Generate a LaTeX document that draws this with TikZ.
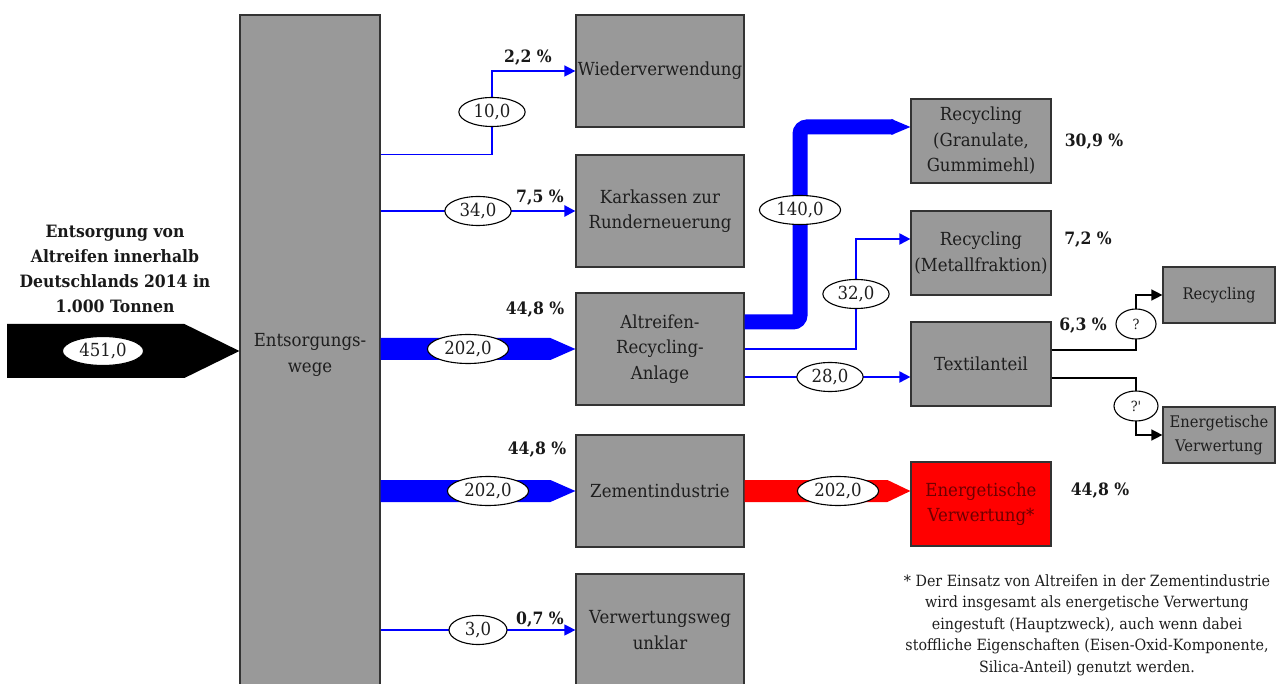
\documentclass[tikz,border=0pt]{standalone}
\usepackage{fontspec}
\setmainfont{DejaVu Serif}[FakeStretch=0.92]
\newfontfamily\plainserif{DejaVu Serif}[FakeStretch=0.92, Ligatures=TeXOff]
\usetikzlibrary{shapes.geometric,arrows.meta,calc}

\definecolor{boxgray}{RGB}{153,153,153}
\definecolor{flowblue}{RGB}{0,0,255}
\definecolor{flowred}{RGB}{255,0,0}
\definecolor{textred}{RGB}{110,0,0}
\definecolor{inktext}{RGB}{30,30,30}

\tikzset{
  box/.style={draw=black!80, line width=1.2pt, fill=boxgray, align=center,
    inner sep=1pt, text=inktext, font=\fontsize{18}{25.5}\selectfont},
  midbox/.style={box, minimum width=168pt, minimum height=112pt},
  rightbox/.style={box, minimum width=140pt, minimum height=84pt},
  smallbox/.style={box, minimum width=112pt, minimum height=56pt, font=\fontsize{16}{24}\selectfont},
  val/.style={ellipse, draw=black, line width=1.1pt, fill=white, inner xsep=5pt,
    inner ysep=1pt, minimum height=29pt, text=inktext, font=\fontsize{18}{20}\selectfont},
  qval/.style={val, minimum width=40pt, minimum height=30pt, inner xsep=2pt, font=\plainserif\fontsize{14}{16}\selectfont},
  pct/.style={font=\bfseries\fontsize{17}{20}\selectfont, text=black!90},
  blueflow/.style={draw=flowblue, -{Triangle[length=11pt,width=11pt]}},
  blackflow/.style={draw=black, line width=1.4pt, -{Triangle[length=11pt,width=11pt]}},
}

\begin{document}
\begin{tikzpicture}[x=1pt, y=-1pt]
\clip (0,0) rectangle (1277,684);
\fill[white] (0,0) rectangle (1277,684);

% ---- boxes ----
\node[box, minimum width=140pt, minimum height=680pt] (ew) at (310,355) {Entsorgungs-\\wege};

\node[midbox] (wv)  at (660,71)  {Wiederverwendung};
\node[midbox] (kk)  at (660,211) {Karkassen zur\\Runderneuerung};
\node[midbox] (ara) at (660,349) {Altreifen-\\Recycling-\\Anlage};
\node[midbox] (zi)  at (660,491) {Zementindustrie};
\node[midbox] (vu)  at (660,630) {Verwertungsweg\\unklar};

\node[rightbox] (rg) at (981,141) {Recycling\\(Granulate,\\Gummimehl)};
\node[rightbox] (rm) at (981,253) {Recycling\\(Metallfraktion)};
\node[rightbox] (ta) at (981,364) {Textilanteil};
\node[rightbox, fill=flowred, text=textred] (ev) at (981,504) {Energetische\\Verwertung*};

\node[smallbox] (r4) at (1219,295) {Recycling};
\node[smallbox] (e4) at (1219,435) {Energetische\\Verwertung};

% ---- input arrow and title ----
\node[align=center, font=\bfseries\fontsize{17}{25}\selectfont, text=black!90] (title) at (115,269)
  {Entsorgung von\\Altreifen innerhalb\\Deutschlands 2014 in\\1.000 Tonnen};
\coordinate (src) at (7,351);
\fill[black] ($(src)+(0,-27)$) -- ($(ew.west|-src)+(-55,-27)$) -- (ew.west|-src)
  -- ($(ew.west|-src)+(-55,27)$) -- ($(src)+(0,27)$) -- cycle;

% ---- junction points of the connectors ----
\coordinate (c10)  at (492,112);
\coordinate (c34)  at (478,211);
\coordinate (c202a) at (468,349);
\coordinate (c202b) at (488,491);
\coordinate (c3)   at (478,630);
\coordinate (c140) at (800,210);
\coordinate (c32)  at (856,294);
\coordinate (c28)  at (830,377);
\coordinate (c202c) at (838,491);
\coordinate (cq1)  at (1136,324);
\coordinate (cq2)  at (1136,406);

% ---- flows out of Entsorgungswege ----
\draw[blueflow, line width=1.4pt] (ew.east|-kk.north) -| (c10) |- (wv.west);
\draw[blueflow, line width=2.4pt] (ew.east|-kk.west) -- (kk.west);
\fill[flowblue] ($(ew.east|-ara.west)+(0,-11)$) -- ($(ara.west)+(-25,-11)$) -- (ara.west)
  -- ($(ara.west)+(-25,11)$) -- ($(ew.east|-ara.west)+(0,11)$) -- cycle;
\fill[flowblue] ($(ew.east|-zi.west)+(0,-11)$) -- ($(zi.west)+(-25,-11)$) -- (zi.west)
  -- ($(zi.west)+(-25,11)$) -- ($(ew.east|-zi.west)+(0,11)$) -- cycle;
\draw[blueflow, line width=1.2pt] (ew.east|-vu.west) -- (vu.west);

% ---- flows out of the recycling plant ----
\draw[flowblue, line width=15pt, rounded corners=7pt]
  ($(ara.east)+(0,-27)$) -| (c140) |- ($(rg.west)+(-17,-14)$);
\fill[flowblue] ($(rg.west)+(-19,-22)$) -- ($(rg.west)+(0,-14)$) -- ($(rg.west)+(-19,-6)$) -- cycle;
\draw[blueflow, line width=2pt] (ara.east) -| (c32) |- ($(rm.west)+(0,-14)$);
\draw[blueflow, line width=2pt] ($(ara.east)+(0,28)$) -- (ta.west|-c28);

% ---- cement industry ----
\fill[flowred] ($(zi.east)+(0,-11)$) -- ($(ev.west|-zi.east)+(-23,-11)$) -- (ev.west|-zi.east)
  -- ($(ev.west|-zi.east)+(-23,11)$) -- ($(zi.east)+(0,11)$) -- cycle;

% ---- textile fraction ----
\draw[blackflow] ($(ta.east)+(0,-14)$) -| (cq1) |- (r4.west);
\draw[blackflow] ($(ta.east)+(0,14)$) -| (cq2) |- (e4.west);

% ---- quantities ----
\node[val] (v451) at (103,351) {451,0};
\node[val] (v10) at (c10) {10,0};
\node[val] (v34) at (c34) {34,0};
\node[val] (v202a) at (c202a) {202,0};
\node[val] (v202b) at (c202b) {202,0};
\node[val, minimum width=58pt] (v3) at (c3) {3,0};
\node[val] (v140) at (c140) {140,0};
\node[val] (v32) at (c32) {32,0};
\node[val] (v28) at (c28) {28,0};
\node[val] (v202c) at (c202c) {202,0};
\node[qval] (q1) at (cq1) {?};
\node[qval, minimum width=44pt] (q2) at (cq2) {?'};

% ---- shares ----
\node[pct] (p22)  at (528,58)  {2,2 \%};
\node[pct] (p75)  at (540,198) {7,5 \%};
\node[pct] (p448a) at (535,310) {44,8 \%};
\node[pct] (p448b) at (537,450) {44,8 \%};
\node[pct] (p07)  at (540,620) {0,7 \%};
\node[pct] (p309) at (1094,142) {30,9 \%};
\node[pct] (p72)  at (1088,240) {7,2 \%};
\node[pct] (p63)  at (1083,326) {6,3 \%};
\node[pct] (p448c) at (1100,491) {44,8 \%};

% ---- footnote ----
\node[align=center, text=inktext, font=\fontsize{15.5}{21.5}\selectfont] (note) at (1087,625)
  {* Der Einsatz von Altreifen in der Zementindustrie\\
   wird insgesamt als energetische Verwertung\\
   eingestuft (Hauptzweck), auch wenn dabei\\
   stoffliche Eigenschaften (Eisen-Oxid-Komponente,\\
   Silica-Anteil) genutzt werden.};
\end{tikzpicture}
\end{document}
